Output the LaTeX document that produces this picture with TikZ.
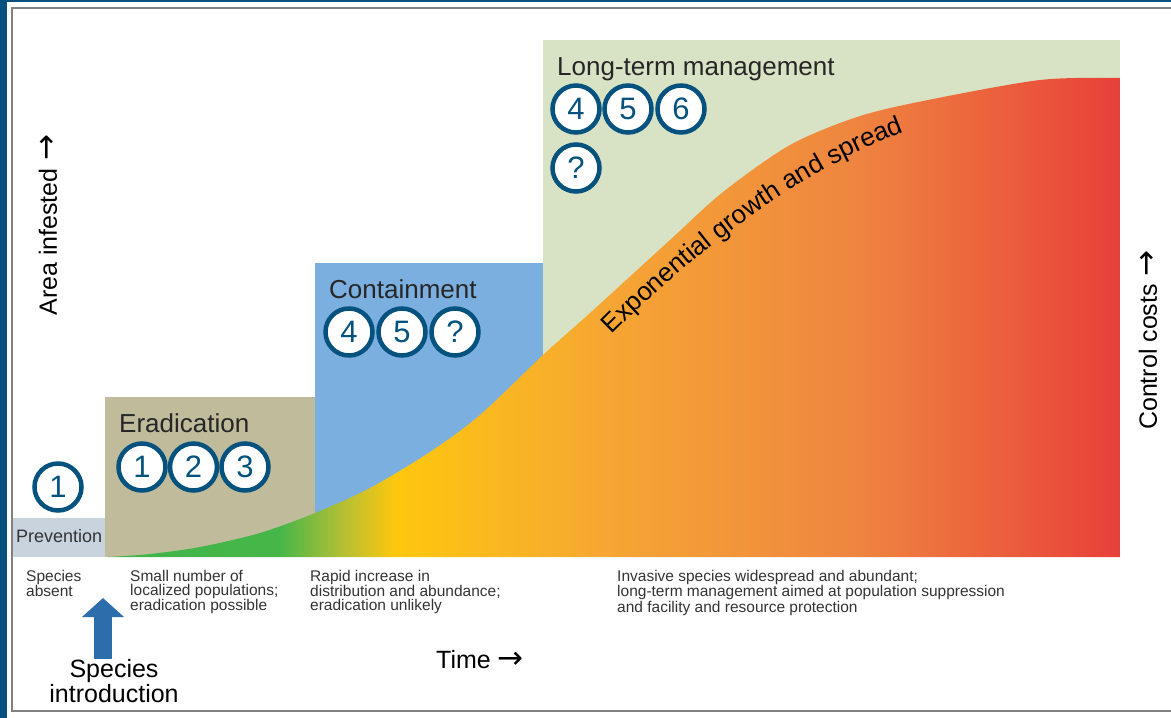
\documentclass[tikz,border=0pt]{standalone}
\usepackage{fontspec}
\setmainfont{Liberation Sans}
\newfontfamily\arrowfont{DejaVu Sans}
\usetikzlibrary{arrows.meta}
\usetikzlibrary{decorations.text}
\definecolor{framebl}{HTML}{05507E}
\definecolor{prevc}{HTML}{C8D3DD}
\definecolor{eradc}{HTML}{BFBB9B}
\definecolor{contc}{HTML}{7BAFDF}
\definecolor{longc}{HTML}{D8E3C5}
\definecolor{numbl}{HTML}{05527F}
\definecolor{introbl}{HTML}{2E6DAB}
\definecolor{txtgray}{HTML}{333333}
\definecolor{g1}{HTML}{3FB54A}
\definecolor{g2}{HTML}{47B649}
\definecolor{g3}{HTML}{B7BF34}
\definecolor{g4}{HTML}{FEC70E}
\definecolor{g5}{HTML}{F6A733}
\definecolor{g6}{HTML}{EF8640}
\definecolor{g7}{HTML}{E8403A}
\pgfdeclarehorizontalshading{spread}{100bp}{color(0bp)=(g1); color(25bp)=(g1); color(33.6bp)=(g2); color(36.8bp)=(g3); color(39.3bp)=(g4); color(49.4bp)=(g5); color(61.7bp)=(g6); color(75bp)=(g7); color(100bp)=(g7)}
\newcommand{\uparr}{{\arrowfont\fontsize{31}{31}\selectfont →}}
\tikzset{num/.style={circle, draw=numbl, line width=4.5pt, fill=white, minimum size=47pt, inner sep=0pt, text=numbl, font=\fontsize{31}{31}\selectfont}}
\tikzset{stage/.style={anchor=base west, inner sep=0pt, font=\fontsize{26}{26}\selectfont, text=black!85}}
\tikzset{note/.style={anchor=north west, align=left, inner sep=0pt, font=\fontsize{15.5}{14}\selectfont, text=txtgray}}
\tikzset{axlabel/.style={inner sep=0pt, font=\fontsize{25}{25}\selectfont}}

\begin{document}
\begin{tikzpicture}[x=1pt, y=-1pt]
\useasboundingbox (0,0) rectangle (1171,718);
\fill[framebl] (0,0) rectangle (7,718);
\fill[framebl] (0,0) rectangle (1171,1.5);
\draw[gray, line width=2pt] (1171,8) -- (12,8) -- (12,711) -- (1171,711);
\fill[longc] (543,40) rectangle (1120,557);
\fill[contc] (315,263) rectangle (543,557);
\fill[eradc] (105,397) rectangle (315,557);
\fill[prevc] (13,518) rectangle (105,557);
\begin{scope}
\clip plot[smooth] coordinates {(108,557) (150,554) (200,547) (260,533) (315,513) (370,488) (430,452) (480,415) (543,355) (590,313) (670,240) (723,192) (790,145) (857,117) (923,101) (1040,80) (1120,78)} -- (1120,557) -- (108,557) -- cycle;
\shade[shading=spread] (105,557) rectangle (1120,70);
\end{scope}
\path[decorate, decoration={text along path, text={|\fontsize{26}{26}\selectfont|Exponential growth and spread}, text align=left}] (612,335) .. controls (685,262) and (795,170) .. (915,128);
\node[stage, font=\fontsize{18}{18}\selectfont, text=txtgray] (prevlbl) at (16,542) {Prevention};
\node[stage] (eradlbl) at (119,432) {Eradication};
\node[stage] (contlbl) at (329,298) {Containment};
\node[stage] (longlbl) at (557,75) {Long-term management};
\node[num] (p1) at (58,487) {1};
\node[num] (e1) at (142,467) {1};
\node[num] (e2) at (193.5,467) {2};
\node[num] (e3) at (245,467) {3};
\node[num] (c4) at (349,332) {4};
\node[num] (c5) at (402,332) {5};
\node[num] (cq) at (455,332) {?};
\node[num] (l4) at (576,109) {4};
\node[num] (l5) at (628,109) {5};
\node[num] (l6) at (681,109) {6};
\node[num] (lq) at (576,168) {?};
\node[note] (absent) at (26,570) {Species\\absent};
\node[note] (small) at (130,570) {Small number of\\localized populations;\\eradication possible};
\node[note] (rapid) at (310,570) {Rapid increase in\\distribution and abundance;\\eradication unlikely};
\node[note] (wide) at (617,570) {Invasive species widespread and abundant;\\long-term management aimed at population suppression\\and facility and resource protection};
\node[axlabel, rotate=90] (area) at (48,225) {Area infested\hspace{8pt}\uparr};
\node[axlabel, rotate=90] (cost) at (1148,340) {Control costs\hspace{8pt}\uparr};
\node[axlabel] (time) at (480,660) {Time \uparr};
\node[axlabel, align=center] (intro) at (114,681) {Species\\introduction};
\coordinate (introtip) at (103,598);
\draw[introbl, line width=18pt, -{Triangle[width=41pt,length=19pt]}] (intro.north -| introtip) -- (introtip);
\end{tikzpicture}
\end{document}
